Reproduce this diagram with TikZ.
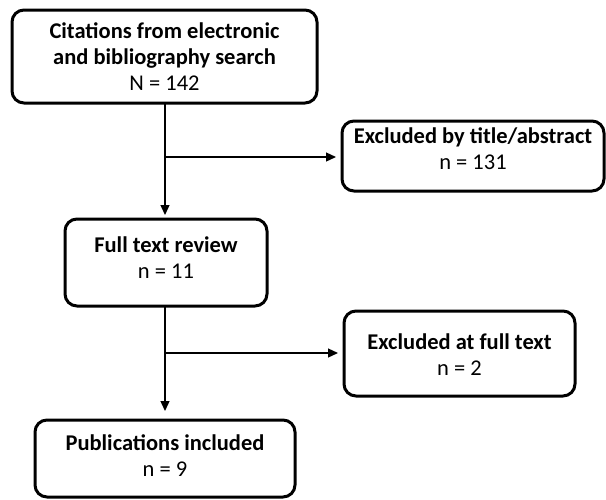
\documentclass[tikz,border=0pt]{standalone}
\usepackage{fontspec}
\setmainfont{Carlito}
\usetikzlibrary{arrows.meta}
\begin{document}
\begin{tikzpicture}[x=1pt,y=-1pt,
  box/.style={draw=black,line width=3pt,rounded corners=12pt,inner sep=0pt,outer sep=0pt},
  lbl/.style={align=center,inner sep=0pt,font=\fontsize{22.5}{26}\selectfont},
  arr/.style={line width=1.3pt,-{Triangle[length=10pt,width=9pt]}},
  ln/.style={line width=1.3pt}]
\useasboundingbox (0,0) rectangle (606,499);
\node[box,minimum width=305pt,minimum height=93pt] (b1) at (164.5,56.5) {};
\node[box,minimum width=262pt,minimum height=70pt] (b2) at (473,156) {};
\node[box,minimum width=202pt,minimum height=87pt] (b3) at (166,262.5) {};
\node[box,minimum width=231pt,minimum height=85pt] (b4) at (459.5,353.5) {};
\node[box,minimum width=260pt,minimum height=77pt] (b5) at (165,458.5) {};
\node[lbl] (t1) at (b1.center) {\textbf{Citations from electronic}\\\textbf{and bibliography search}\\N = 142};
\node[lbl,yshift=7pt] (t2) at (b2.center) {\textbf{Excluded by title/abstract}\\n = 131};
\node[lbl,yshift=5pt] (t3) at (b3.center) {\textbf{Full text review}\\n = 11};
\node[lbl,yshift=-1pt] (t4) at (b4.center) {\textbf{Excluded at full text}\\n = 2};
\node[lbl,yshift=3pt] (t5) at (b5.center) {\textbf{Publications included}\\n = 9};
\coordinate (s1) at (165,103);
\coordinate (j1) at (165,157);
\coordinate (s2) at (165,306);
\coordinate (j2) at (165,353);
\draw[arr,shorten >=4pt] (s1) -- (s1 |- b3.north);
\draw[arr,shorten >=6pt] (j1) -- (j1 -| b2.west);
\draw[arr,shorten >=9pt] (s2) -- (s2 |- b5.north);
\draw[arr,shorten >=6pt] (j2) -- (j2 -| b4.west);
\end{tikzpicture}
\end{document}
